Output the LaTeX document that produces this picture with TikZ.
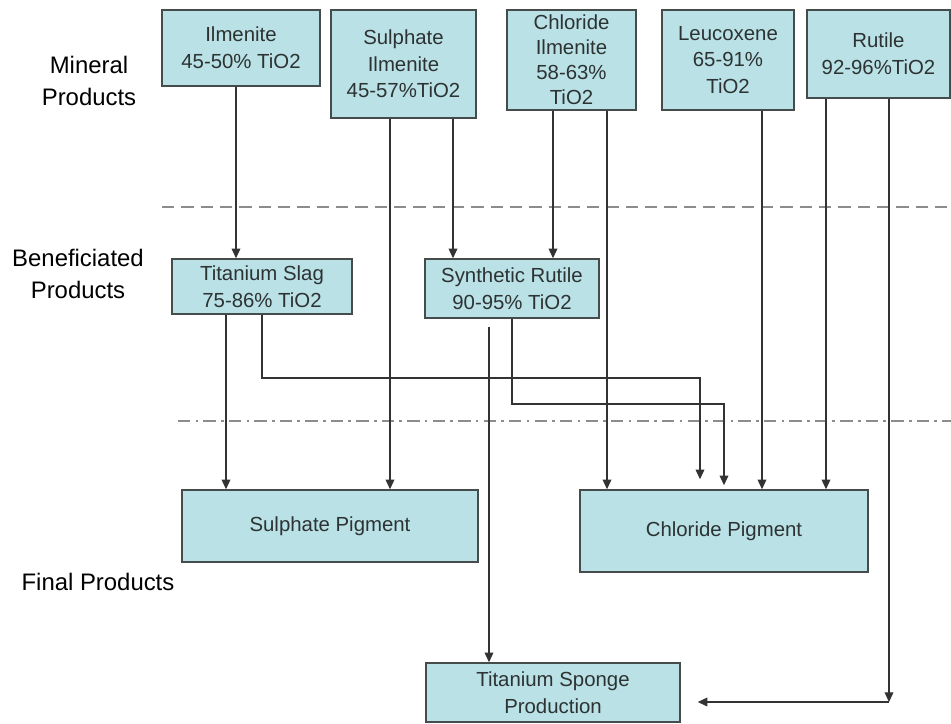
\documentclass[tikz,border=0pt]{standalone}
\usepackage{fontspec}
\setmainfont{Liberation Sans}
\usetikzlibrary{arrows.meta,positioning}
\definecolor{boxfill}{RGB}{185,225,230}
\definecolor{boxline}{RGB}{70,75,75}
\definecolor{textgray}{RGB}{45,50,50}

\begin{document}
\begin{tikzpicture}[
    x=0.02cm, y=-0.02cm,
    box/.style={rectangle, draw=boxline, line width=0.9pt, fill=boxfill, align=center, inner sep=1pt, font=\fontsize{11.6}{15.2}\selectfont, text=textgray},
    rowlabel/.style={align=center, font=\fontsize{13.6}{18.5}\selectfont, text=black},
    arrow/.style={-{Triangle[length=5.5pt,width=5pt]}, line width=0.6pt, draw=black!80},
    sepline/.style={line width=0.8pt, draw=black!45}
]
\useasboundingbox (0,0) rectangle (951,724);

% Mineral products
\node[box, minimum width=3.16cm, minimum height=1.52cm] (ilmenite) at (241,48) {Ilmenite\\45-50\% TiO2};
\node[box, minimum width=2.9cm, minimum height=2.16cm] (sulphilm) at (403.5,64) {Sulphate\\Ilmenite\\45-57\%TiO2};
\node[box, minimum width=2.58cm, minimum height=2cm, font=\fontsize{11.6}{14.3}\selectfont] (chlorilm) at (571.5,60) {Chloride\\Ilmenite\\58-63\%\\TiO2};
\node[box, minimum width=2.64cm, minimum height=2cm] (leucox) at (728,60) {Leucoxene\\65-91\%\\TiO2};
\node[box, minimum width=2.86cm, minimum height=1.76cm] (rutile) at (878.5,54) {Rutile\\92-96\%TiO2};

% Beneficiated products
\node[box, minimum width=3.6cm, minimum height=1.1cm] (slag) at (262,286.5) {Titanium Slag\\75-86\% TiO2};
\node[box, minimum width=3.48cm, minimum height=1.18cm] (synrut) at (512,288.5) {Synthetic Rutile\\90-95\% TiO2};

% Final products
\node[box, minimum width=5.92cm, minimum height=1.44cm] (sulphpig) at (330,526) {Sulphate Pigment};
\node[box, minimum width=5.76cm, minimum height=1.64cm] (chlorpig) at (724,531) {Chloride Pigment};
\node[box, minimum width=5.08cm, minimum height=1.18cm] (sponge) at (553,692.5) {Titanium Sponge\\Production};

% Row labels
\node[rowlabel] (minlabel) at (89,81) {Mineral\\Products};
\node[rowlabel] (benlabel) at (78,274) {Beneficiated\\Products};
\node[rowlabel] (finlabel) at (98,582) {Final Products};

% Separator lines
\draw[sepline, dash pattern=on 7pt off 4pt] (162,207) -- (951,207);
\draw[sepline, dash pattern=on 7pt off 3pt on 1.5pt off 3pt] (178,421) -- (951,421);

% Arrows to beneficiated products
\draw[arrow] (ilmenite.south -| 236,0) -- (slag.north -| 236,0);
\draw[arrow] (sulphilm.south -| 453,0) -- (synrut.north -| 453,0);
\draw[arrow] (chlorilm.south -| 553,0) -- (synrut.north -| 553,0);

% Arrows to pigments
\draw[arrow] (sulphilm.south -| 390,0) -- (sulphpig.north -| 390,0);
\draw[arrow] (slag.south -| 226,0) -- (sulphpig.north -| 226,0);
\draw[arrow] (chlorilm.south -| 607,0) -- (chlorpig.north -| 607,0);
\draw[arrow] (leucox.south -| 762,0) -- (chlorpig.north -| 762,0);
\draw[arrow] (rutile.south -| 826,0) -- (chlorpig.north -| 826,0);
\draw[arrow] (slag.south -| 262,0) |- (700,378) -- ([yshift=0.2cm]chlorpig.north -| 700,0);
\draw[arrow] (synrut.south -| 512,0) |- (724,404) -- ([yshift=0.08cm]chlorpig.north -| 724,0);

% Titanium sponge
\coordinate (bend) at (889,702);
\draw[arrow] (synrut.south -| 489,0) ++(0,8) -- (sponge.north -| 489,0);
\draw[arrow] (rutile.south -| 889,0) -- (bend);
\draw[arrow, shorten >=0.34cm] (bend) -- (sponge.east |- bend);

\end{tikzpicture}
\end{document}
